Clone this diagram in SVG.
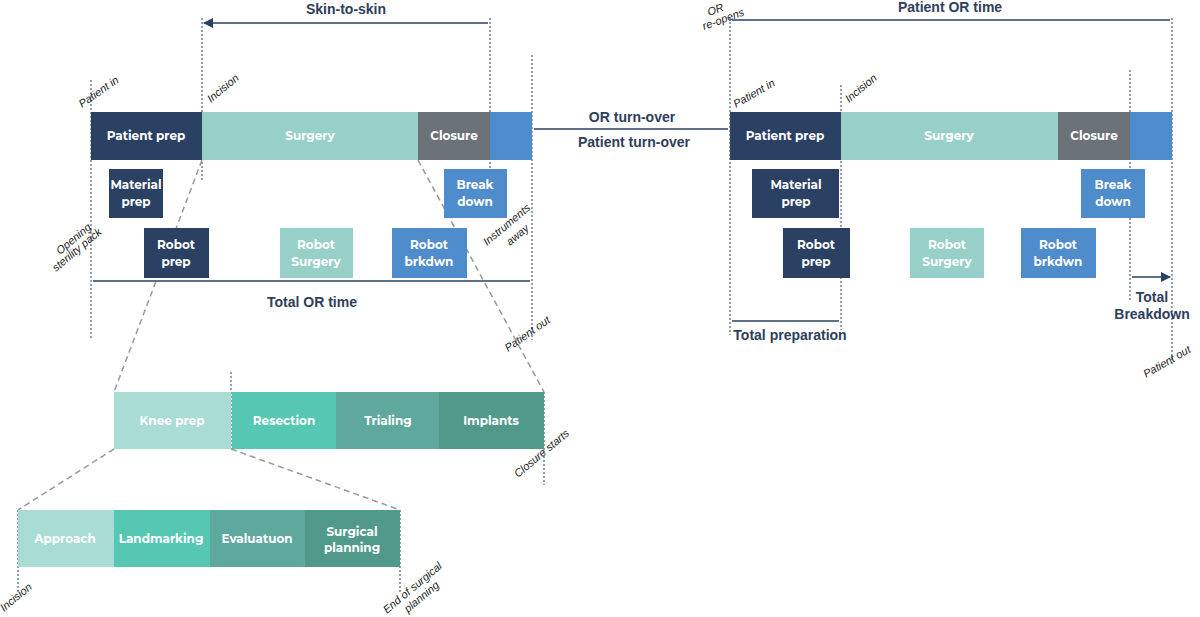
<svg xmlns="http://www.w3.org/2000/svg" width="1200" height="617" viewBox="0 0 1200 617">
<style>
.b{font-family:"Montserrat","Liberation Sans",sans-serif;font-weight:bold;fill:#fff;font-size:12px;text-anchor:middle}
.h{font-family:"Liberation Sans",sans-serif;font-weight:bold;fill:#2e3e5c;font-size:14px;text-anchor:middle}
.i{font-family:"Liberation Sans",sans-serif;font-style:italic;fill:#222;font-size:11px}
.dot{stroke:#2a4163;stroke-width:1;stroke-dasharray:2,2;fill:none}
.gd{stroke:#999;stroke-width:1.5;stroke-dasharray:6,4;fill:none}
.ar{stroke:#2a4163;stroke-width:1.5;fill:none;marker-start:url(#a);marker-end:url(#a)}
</style>
<defs><marker id="a" viewBox="0 0 10 10" refX="9" refY="5" markerWidth="7" markerHeight="7" orient="auto-start-reverse"><path d="M0,0L10,5L0,10z" fill="#2a4163"/></marker></defs>
<rect width="1200" height="617" fill="#fff"/>
<g id="connectors">
<path class="dot" d="M91,80V340M202,18V180M490,18V180M532,55V340M231,372V449M544,392V485M18,510V592M400,510V592M730,18V335M841,85V330M1130,70V300M1172,18V365"/>
<path class="gd" d="M202,160L114,392M418,160L544,392M114,449L18,510M231,449L400,510"/>
<path class="ar" d="M204,23H488M93,281H530M534,129H728M732,20H1170M732,321H839M1132,277H1170"/>
</g>
<g class="h">
<text x="346" y="14">Skin-to-skin</text>
<text x="312" y="307">Total OR time</text>
<text x="632" y="122">OR turn-over</text>
<text x="634" y="147">Patient turn-over</text>
<text x="950" y="12">Patient OR time</text>
<text x="790" y="340">Total preparation</text>
<text x="1152" y="302">Total</text>
<text x="1152" y="319">Breakdown</text>
</g>
<g id="left-top">
<rect x="91" y="112" width="111" height="48" fill="#2a4163"/><text class="b" x="146" y="140">Patient prep</text>
<rect x="202" y="112" width="216" height="48" fill="#97cfc9"/><text class="b" x="310" y="140">Surgery</text>
<rect x="418" y="112" width="72" height="48" fill="#6b7278"/><text class="b" x="454" y="140" font-size="11">Closure</text>
<rect x="490" y="112" width="42" height="48" fill="#4f8ccc"/>
<rect x="109" y="169" width="54" height="49" fill="#2a4163"/><text class="b" x="136" y="189">Material</text><text class="b" x="136" y="206">prep</text>
<rect x="444" y="169" width="63" height="49" fill="#4f8ccc"/><text class="b" x="475" y="189">Break</text><text class="b" x="475" y="206">down</text>
<rect x="144" y="228" width="65" height="50" fill="#2a4163"/><text class="b" x="176" y="249">Robot</text><text class="b" x="176" y="266">prep</text>
<rect x="280" y="228" width="73" height="50" fill="#97cfc9"/><text class="b" x="316" y="249">Robot</text><text class="b" x="316" y="266">Surgery</text>
<rect x="392" y="228" width="75" height="50" fill="#4f8ccc"/><text class="b" x="429" y="249">Robot</text><text class="b" x="429" y="266">brkdwn</text>
</g>
<g id="right-top">
<rect x="730" y="112" width="111" height="48" fill="#2a4163"/><text class="b" x="785" y="140">Patient prep</text>
<rect x="841" y="112" width="217" height="48" fill="#97cfc9"/><text class="b" x="949" y="140">Surgery</text>
<rect x="1058" y="112" width="72" height="48" fill="#6b7278"/><text class="b" x="1094" y="140">Closure</text>
<rect x="1130" y="112" width="42" height="48" fill="#4f8ccc"/>
<rect x="752" y="169" width="87" height="49" fill="#2a4163"/><text class="b" x="796" y="189">Material</text><text class="b" x="796" y="206">prep</text>
<rect x="1081" y="169" width="64" height="49" fill="#4f8ccc"/><text class="b" x="1113" y="189">Break</text><text class="b" x="1113" y="206">down</text>
<rect x="783" y="228" width="67" height="50" fill="#2a4163"/><text class="b" x="816" y="249">Robot</text><text class="b" x="816" y="266">prep</text>
<rect x="910" y="228" width="74" height="50" fill="#97cfc9"/><text class="b" x="947" y="249">Robot</text><text class="b" x="947" y="266">Surgery</text>
<rect x="1021" y="228" width="75" height="50" fill="#4f8ccc"/><text class="b" x="1058" y="249">Robot</text><text class="b" x="1058" y="266">brkdwn</text>
</g>
<g id="knee">
<rect x="114" y="392" width="117" height="57" fill="#a8dcd5"/><text class="b" x="172" y="425">Knee prep</text>
<rect x="232" y="392" width="104" height="57" fill="#56c7b3"/><text class="b" x="284" y="425">Resection</text>
<rect x="336" y="392" width="103" height="57" fill="#5fa89d"/><text class="b" x="388" y="425">Trialing</text>
<rect x="439" y="392" width="105" height="57" fill="#519a8b"/><text class="b" x="491" y="425">Implants</text>
</g>
<g id="planning">
<rect x="18" y="510" width="96" height="57" fill="#a8dcd5"/><text class="b" x="65" y="543">Approach</text>
<rect x="114" y="510" width="96" height="57" fill="#56c7b3"/><text class="b" x="161" y="543" font-size="11">Landmarking</text>
<rect x="210" y="510" width="95" height="57" fill="#5fa89d"/><text class="b" x="257" y="543">Evaluatuon</text>
<rect x="305" y="510" width="95" height="57" fill="#519a8b"/><text class="b" x="352" y="536">Surgical</text><text class="b" x="352" y="552">planning</text>
</g>
<g class="i">
<text transform="translate(82,108) rotate(-35)">Patient in</text>
<text transform="translate(211,103) rotate(-40)">Incision</text>
<text transform="translate(60,255) rotate(-40)">Opening</text>
<text transform="translate(56,272) rotate(-40)">sterility pack</text>
<text transform="translate(487,246) rotate(-40)">Instruments</text>
<text transform="translate(510,246) rotate(-40)">away</text>
<text transform="translate(508,352) rotate(-35)">Patient out</text>
<text transform="translate(518,478) rotate(-40)">Closure starts</text>
<text transform="translate(4,612) rotate(-40)">Incision</text>
<text transform="translate(387,614) rotate(-40)">End of surgical</text>
<text transform="translate(408,613) rotate(-40)">planning</text>
<text transform="translate(709,16) rotate(-20)">OR</text>
<text transform="translate(704,30) rotate(-20)">re-opens</text>
<text transform="translate(736,108) rotate(-30)">Patient in</text>
<text transform="translate(849,103) rotate(-40)">Incision</text>
<text transform="translate(1146,378) rotate(-30)">Patient out</text>
</g>
</svg>
